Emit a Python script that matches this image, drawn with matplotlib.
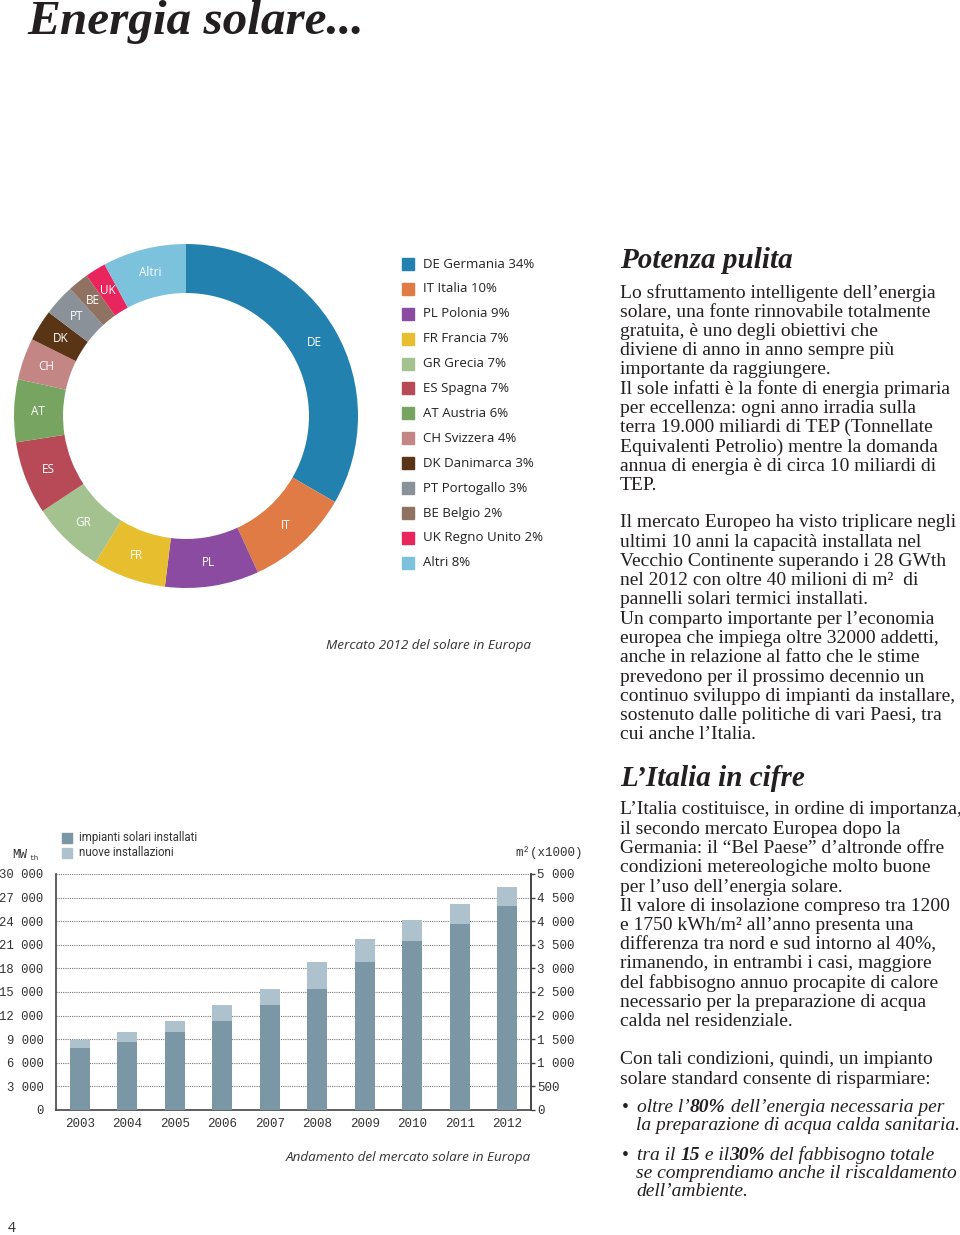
import numpy as np
import matplotlib.pyplot as plt
from matplotlib.patches import Rectangle
from matplotlib import font_manager

# Donut: European solar thermal market 2012
codes = ["DE", "IT", "PL", "FR", "GR", "ES", "AT", "CH", "DK", "PT", "BE", "UK", "Altri"]
names = ["DE Germania", "IT Italia", "PL Polonia", "FR Francia", "GR Grecia", "ES Spagna",
         "AT Austria", "CH Svizzera", "DK Danimarca", "PT Portogallo", "BE Belgio",
         "UK Regno Unito", "Altri"]
shares = [34, 10, 9, 7, 7, 7, 6, 4, 3, 3, 2, 2, 8]
colors = ["#2381b0", "#e07b45", "#8a4ba0", "#e7bf2e", "#a3c290", "#b84a57", "#78a462",
          "#c48585", "#5a3515", "#8a9199", "#8f7262", "#e8265d", "#7cc2dd"]

# Bars: installed capacity (MWth)
years = ["2003", "2004", "2005", "2006", "2007", "2008", "2009", "2010", "2011", "2012"]
installed = [7900, 8700, 9900, 11300, 13400, 15400, 18800, 21500, 23700, 25900]
new_inst = [1000, 1200, 1400, 2100, 2000, 3400, 3000, 2600, 2550, 2400]
left_ticks = list(range(0, 30001, 3000))
right_ticks = list(range(0, 5001, 500))

W, H = 960, 1235
def fx(x): return x / W
def fy(y): return 1 - y / H

avail = {f.name for f in font_manager.fontManager.ttflist}
SANS = "Open Sans"
NARROW = "Liberation Sans Narrow" if "Liberation Sans Narrow" in avail else "Roboto"
SERIF = "Liberation Serif"
MONO = "Liberation Mono"
INK = "#231f20"
BODY = 14

fig = plt.figure(figsize=(9.6, 12.35), dpi=100)

# title and page number
fig.text(fx(27), fy(22), "Energia solare...", family=SERIF, style="italic", weight="bold",
         size=35.5, va="center", color=INK)
fig.text(fx(8), fy(1228), "4", family=SANS, size=10, va="center", color="#333")

# ---- donut ----
cx, cy, R = 186, 416, 172
axp = fig.add_axes([fx(cx - R), fy(cy + R), 2 * R / W, 2 * R / H])
wedges, _ = axp.pie(shares, colors=colors, startangle=90, counterclock=False,
                    radius=1, wedgeprops=dict(width=0.285, edgecolor="none"))
axp.set_xlim(-1, 1)
axp.set_ylim(-1, 1)
for w, c in zip(wedges, codes):
    a = np.deg2rad((w.theta1 + w.theta2) / 2)
    axp.text(0.86 * np.cos(a), 0.86 * np.sin(a), c, ha="center", va="center",
             color="white", family=SANS, size=8.5)

# donut legend
for i, (n, s, c) in enumerate(zip(names, shares, colors)):
    yy = 264 + i * 24.9
    fig.patches.append(Rectangle((fx(402), fy(yy + 6)), 12 / W, 12 / H, color=c,
                                 transform=fig.transFigure, figure=fig))
    fig.text(fx(423), fy(yy), f"{n} {s}%", family=SANS, size=9.5, va="center", color="#222")

fig.text(fx(531), fy(646), "Mercato 2012 del solare in Europa", family=SANS, style="italic",
         size=9.7, ha="right", va="center", color="#333")

# ---- bar chart ----
ax = fig.add_axes([fx(56), fy(1110), (531 - 56) / W, (1110 - 874) / H])
x = np.arange(len(years))
ax.bar(x, installed, width=0.42, color="#7b97a5", zorder=3)
ax.bar(x, new_inst, bottom=installed, width=0.42, color="#adc2cc", zorder=3)
ax.set_xlim(-0.5, len(years) - 0.5)
ax.set_ylim(0, 30000)
ax.set_xticks(x)
ax.set_xticklabels(years, family=MONO, size=9, color="#333")
ax.set_yticks(left_ticks)
ax.set_yticklabels([f"{v:,}".replace(",", " ") for v in left_ticks], family=MONO, size=8.8,
                   color="#333")
ax.yaxis.grid(True, linestyle=(0, (1, 1)), color="#777", linewidth=0.8, zorder=0)
ax.tick_params(axis="y", length=0, pad=9)
ax.tick_params(axis="x", length=0, pad=6)
ax.spines["top"].set_visible(False)
for s in ["left", "bottom", "right"]:
    ax.spines[s].set_color("#444")
    ax.spines[s].set_linewidth(1.2)

ax2 = ax.twinx()
ax2.set_ylim(0, 5000)
ax2.set_yticks(right_ticks)
ax2.set_yticklabels([f"{v:,}".replace(",", " ") for v in right_ticks], family=MONO, size=9,
                    color="#333")
ax2.tick_params(axis="y", length=3, width=1, color="#444", direction="out", pad=1.5)
for s in ["left", "top", "bottom"]:
    ax2.spines[s].set_visible(False)
ax2.spines["right"].set_color("#444")
ax2.spines["right"].set_linewidth(1.2)

fig.text(fx(12), fy(855), "MW", family=MONO, size=9, va="center", color="#333")
fig.text(fx(29), fy(858), "th", family=MONO, size=5.5, va="center", color="#333")
fig.text(fx(515), fy(853), "m²(x1000)", family=MONO, size=9, va="center", color="#333")

for i, (lab, c) in enumerate([("impianti solari installati", "#7b97a5"),
                              ("nuove installazioni", "#adc2cc")]):
    yy = 838 + i * 15
    fig.patches.append(Rectangle((fx(62), fy(yy + 5)), 10 / W, 10 / H, color=c,
                                 transform=fig.transFigure, figure=fig))
    fig.text(fx(79), fy(yy), lab, family=NARROW, size=8.3, va="center", color="#333")

fig.text(fx(531), fy(1158), "Andamento del mercato solare in Europa", family=SANS,
         style="italic", size=9.7, ha="right", va="center", color="#333")

# ---- text column ----
def heading(y, s):
    fig.text(fx(620), fy(y), s, family=SERIF, style="italic", weight="bold", size=21,
             va="center", color=INK)

def para(y0, lines, step=19.25):
    for k, s in enumerate(lines):
        fig.text(fx(620), fy(y0 + k * step), s, family=SERIF, size=BODY, va="center", color=INK)

heading(261, "Potenza pulita")
para(293, ["Lo sfruttamento intelligente dell’energia",
           "solare, una fonte rinnovabile totalmente",
           "gratuita, è uno degli obiettivi che",
           "diviene di anno in anno sempre più",
           "importante da raggiungere.",
           "Il sole infatti è la fonte di energia primaria",
           "per eccellenza: ogni anno irradia sulla",
           "terra 19.000 miliardi di TEP (Tonnellate",
           "Equivalenti Petrolio) mentre la domanda",
           "annua di energia è di circa 10 miliardi di",
           "TEP."])
para(523, ["Il mercato Europeo ha visto triplicare negli",
           "ultimi 10 anni la capacità installata nel",
           "Vecchio Continente superando i 28 GWth",
           "nel 2012 con oltre 40 milioni di m²  di",
           "pannelli solari termici installati.",
           "Un comparto importante per l’economia",
           "europea che impiega oltre 32000 addetti,",
           "anche in relazione al fatto che le stime",
           "prevedono per il prossimo decennio un",
           "continuo sviluppo di impianti da installare,",
           "sostenuto dalle politiche di vari Paesi, tra",
           "cui anche l’Italia."])
heading(778, "L’Italia in cifre")
para(810, ["L’Italia costituisce, in ordine di importanza,",
           "il secondo mercato Europea dopo la",
           "Germania: il “Bel Paese” d’altronde offre",
           "condizioni metereologiche molto buone",
           "per l’uso dell’energia solare.",
           "Il valore di insolazione compreso tra 1200",
           "e 1750 kWh/m² all’anno presenta una",
           "differenza tra nord e sud intorno al 40%,",
           "rimanendo, in entrambi i casi, maggiore",
           "del fabbisogno annuo procapite di calore",
           "necessario per la preparazione di acqua",
           "calda nel residenziale."])
para(1060, ["Con tali condizioni, quindi, un impianto",
            "solare standard consente di risparmiare:"])

renderer = fig.canvas.get_renderer()
def runs(x0, y, pieces):
    xp = x0
    for s, bold in pieces:
        t = fig.text(fx(xp), fy(y), s, family=SERIF, style="italic", size=BODY,
                     weight="bold" if bold else "normal", va="center", color=INK)
        xp = t.get_window_extent(renderer).x1

fig.text(fx(622), fy(1108), "•", family=SERIF, size=BODY, va="center", color=INK)
runs(637, 1108, [("oltre l’", False), ("80%", True), (" dell’energia necessaria per", False)])
runs(636, 1126, [("la preparazione di acqua calda sanitaria.", False)])
fig.text(fx(622), fy(1155), "•", family=SERIF, size=BODY, va="center", color=INK)
runs(637, 1155, [("tra il ", False), ("15", True), (" e il", False), ("30%", True),
                 (" del fabbisogno totale", False)])
runs(636, 1174, [("se comprendiamo anche il riscaldamento", False)])
runs(636, 1192, [("dell’ambiente.", False)])

fig.savefig("out.png", dpi=100, facecolor="white")
